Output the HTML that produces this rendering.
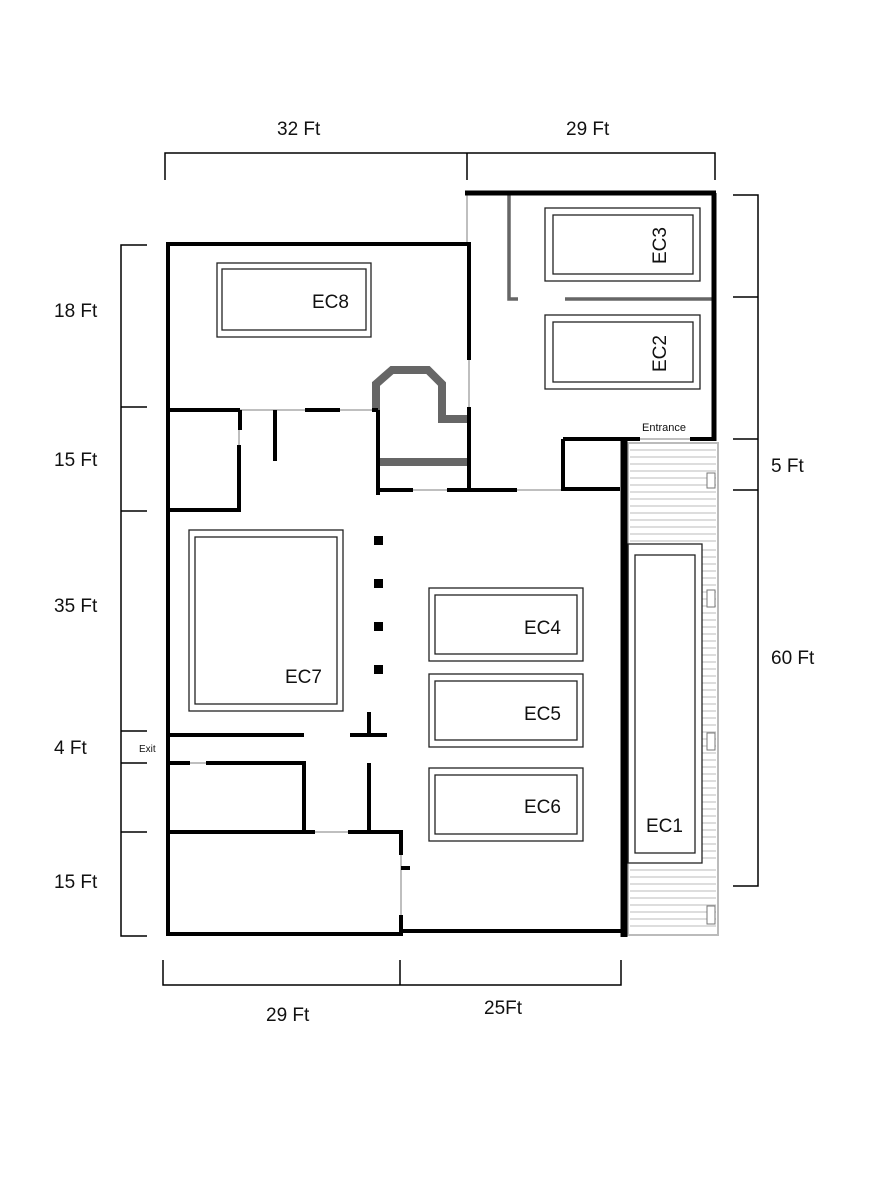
<!DOCTYPE html>
<html><head><meta charset="utf-8"><style>
html,body{margin:0;padding:0;background:#fff;}
svg{display:block;}
text{font-family:"Liberation Sans",sans-serif;fill:#111;}
</style></head><body>
<svg width="883" height="1200" viewBox="0 0 883 1200" xmlns="http://www.w3.org/2000/svg">
<rect width="883" height="1200" fill="#fff"/>
<!-- dimension lines -->
<g stroke="#000" stroke-width="1.5" fill="none">
<path d="M165 180V153H715V180M467 153V180"/>
<path d="M147 245H121V936H147M121 407H147M121 511H147M121 731H147M121 763H147M121 832H147"/>
<path d="M733 195H758V886H733M733 297H758M733 439H758M733 490H758"/>
<path d="M163 960V985H621V960M400 960V985"/>
</g>
<g font-size="19">
<text x="277" y="135">32 Ft</text>
<text x="566" y="135">29 Ft</text>
<text x="54" y="317">18 Ft</text>
<text x="54" y="466">15 Ft</text>
<text x="54" y="612">35 Ft</text>
<text x="54" y="754">4 Ft</text>
<text x="54" y="888">15 Ft</text>
<text x="771" y="472">5 Ft</text>
<text x="771" y="664">60 Ft</text>
<text x="266" y="1021">29 Ft</text>
<text x="484" y="1014">25Ft</text>
</g>
<!-- ramp EC1 -->
<g stroke="#bbb" stroke-width="1" fill="none">
<rect x="628" y="443" width="90" height="492" stroke-width="2"/>
<path d="M630 450H716M630 457H716M630 464H716M630 471H716M630 478H716M630 485H716M630 492H716M630 499H716M630 506H716M630 513H716M630 520H716M630 527H716M630 534H716M630 541H716"/>
<path d="M702 550H716M702 557H716M702 564H716M702 571H716M702 578H716M702 585H716M702 592H716M702 599H716M702 606H716M702 613H716M702 620H716M702 627H716M702 634H716M702 641H716M702 648H716M702 655H716M702 662H716M702 669H716M702 676H716M702 683H716M702 690H716M702 697H716M702 704H716M702 711H716M702 718H716M702 725H716M702 732H716M702 739H716M702 746H716M702 753H716M702 760H716M702 767H716M702 774H716M702 781H716M702 788H716M702 795H716M702 802H716M702 809H716M702 816H716M702 823H716M702 830H716M702 837H716M702 844H716M702 851H716M702 858H716"/>
<path d="M630 870H716M630 877H716M630 884H716M630 891H716M630 898H716M630 905H716M630 912H716M630 919H716M630 926H716"/>
</g>
<g stroke="#777" stroke-width="1" fill="#fff">
<rect x="707" y="473" width="8" height="15"/>
<rect x="707" y="590" width="8" height="17"/>
<rect x="707" y="733" width="8" height="17"/>
<rect x="707" y="906" width="8" height="18"/>
</g>
<g stroke="#222" stroke-width="1.3" fill="none">
<rect x="628" y="544" width="74" height="319"/>
<rect x="635" y="555" width="60" height="298"/>
<rect x="217" y="263" width="154" height="74"/>
<rect x="222" y="269" width="144" height="61"/>
<rect x="545" y="208" width="155" height="73"/>
<rect x="553" y="215" width="140" height="59"/>
<rect x="545" y="315" width="155" height="74"/>
<rect x="553" y="322" width="140" height="60"/>
<rect x="189" y="530" width="154" height="181"/>
<rect x="195" y="537" width="142" height="167"/>
<rect x="429" y="588" width="154" height="73"/>
<rect x="435" y="595" width="142" height="59"/>
<rect x="429" y="674" width="154" height="73"/>
<rect x="435" y="681" width="142" height="59"/>
<rect x="429" y="768" width="154" height="73"/>
<rect x="435" y="775" width="142" height="59"/>
</g>
<!-- gray thin (doors/windows) -->
<g stroke="#aaa" stroke-width="1.5" fill="none">
<path d="M467 193V244M469 360V407M640 439H690M240 410H305M340 410H372M239 430V445M413 490H447M517 490H563M168 735V762M190 763H206M315 832H348M401 855V915"/>
</g>
<!-- gray interior walls -->
<g stroke="#666" fill="none">
<path d="M509 195V299H518M565 299H712" stroke-width="3.5"/>
<path d="M376 412V384L392 370H428L442 384V419H469" stroke-width="8"/>
<path d="M380 462H469" stroke-width="8"/>
</g>
<!-- black walls -->
<g stroke="#000" fill="none" stroke-width="4">
<path d="M166 244H471M168 244V936M469 244V360M469 407V490"/>
<path d="M465 193H716M714 193V441" stroke-width="5"/>
<path d="M563 439H640M690 439H716M563 439V489H620"/>
<path d="M624 439V937" stroke-width="7"/>
<path d="M166 410H240M240 410V430M239 445V510H166M305 410H340M372 410H378M378 410V495M275 410V461"/>
<path d="M378 490H413M447 490H517"/>
<path d="M168 735H304M350 735H387M369 712V735"/>
<path d="M168 763H190M206 763H304V832M168 832H315M348 832H403M369 763V832"/>
<path d="M401 832V855M401 915V935M401 868H410M168 934H403M401 931H627"/>
</g>
<g fill="#000">
<rect x="374" y="536" width="9" height="9"/>
<rect x="374" y="579" width="9" height="9"/>
<rect x="374" y="622" width="9" height="9"/>
<rect x="374" y="665" width="9" height="9"/>
</g>
<g font-size="19">
<text x="312" y="308">EC8</text>
<text x="285" y="683">EC7</text>
<text x="524" y="634">EC4</text>
<text x="524" y="720">EC5</text>
<text x="524" y="813">EC6</text>
<text x="646" y="832">EC1</text>
<text transform="translate(666,264) rotate(-90)">EC3</text>
<text transform="translate(666,372) rotate(-90)">EC2</text>
</g>
<text x="642" y="431" font-size="11">Entrance</text>
<text x="139" y="752" font-size="10">Exit</text>
</svg>
</body></html>
